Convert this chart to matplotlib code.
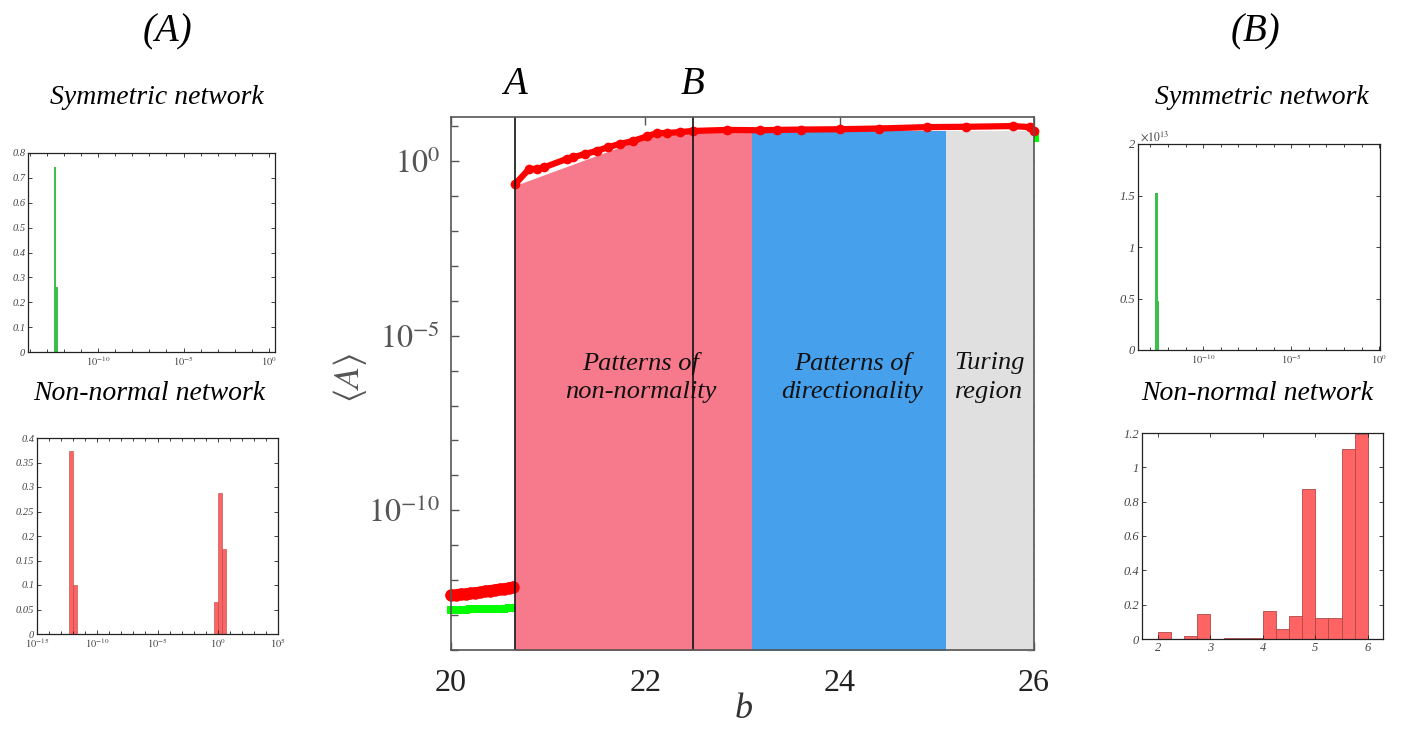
import matplotlib
matplotlib.use('Agg')
import matplotlib.pyplot as plt
from matplotlib.ticker import FixedLocator, NullFormatter
import numpy as np

plt.rcParams['font.family'] = ['Liberation Serif', 'DejaVu Serif']
plt.rcParams['mathtext.fontset'] = 'stix'

# ---------------- main panel data ----------------
red_b_low = [20.00, 20.05, 20.10, 20.15, 20.20, 20.25, 20.30, 20.35, 20.40, 20.45, 20.50, 20.55, 20.60, 20.64]
red_logA_low = [-12.43, -12.42, -12.40, -12.40, -12.38, -12.36, -12.35, -12.32, -12.30, -12.28, -12.26, -12.25, -12.22, -12.20]
green_b_low = [20.00, 20.05, 20.10, 20.15, 20.20, 20.25, 20.30, 20.35, 20.40, 20.45, 20.50, 20.55, 20.60, 20.65]
green_logA_low = [-12.86, -12.86, -12.85, -12.85, -12.84, -12.84, -12.83, -12.83, -12.83, -12.82, -12.82, -12.82, -12.81, -12.81]
red_b_high = [20.66, 20.80, 20.88, 20.96, 21.19, 21.26, 21.38, 21.50, 21.62, 21.74, 21.87, 22.02, 22.12, 22.22,
              22.36, 22.49, 22.84, 23.18, 23.35, 23.60, 24.00, 24.40, 24.90, 25.30, 25.78, 25.96, 26.00]
red_logA_high = [-0.66, -0.24, -0.22, -0.18, 0.06, 0.11, 0.20, 0.29, 0.40, 0.49, 0.57, 0.71, 0.80, 0.80,
                 0.83, 0.86, 0.89, 0.88, 0.89, 0.90, 0.91, 0.93, 0.97, 0.98, 1.00, 0.97, 0.86]
green_b_end = [26.0]
green_logA_end = [0.69]

b_A = 20.66
b_B = 22.49
pink_b = [20.66, 22.07, 22.50, 23.10]
pink_logtop = [-0.70, 0.74, 0.84, 0.86]
blue_b = [23.10, 25.09]
gray_b = [25.09, 26.00]
region_logtop = 0.86

x_ticks_main = [20, 22, 24, 26]
y_ticks_main = [1e-10, 1e-5, 1e0]
y_ticklabels_main = [r'$10^{-10}$', r'$10^{-5}$', r'$10^{0}$']

# ---------------- small histogram data ----------------
symA_logedges = [-12.56, -12.44, -12.32]
symA_heights = [0.745, 0.26]
nnA_logedges_1 = [-12.38, -12.01, -11.68]
nnA_heights_1 = [0.373, 0.10]
nnA_logedges_2 = [-0.29, 0.02, 0.35, 0.68]
nnA_heights_2 = [0.065, 0.287, 0.173]
symB_logedges = [-12.73, -12.58, -12.49]
symB_heights = [1.52e13, 0.48e13]
nnB_edges = [2.00, 2.25, 2.50, 2.75, 3.00, 3.25, 3.50, 3.75, 4.00, 4.25, 4.50, 4.75, 5.00, 5.25, 5.50, 5.75, 6.00]
nnB_heights = [0.040, 0.0, 0.019, 0.146, 0.0, 0.003, 0.006, 0.005, 0.165, 0.058, 0.136, 0.876, 0.122, 0.122, 1.105, 1.196]

PINK = '#f67a8b'
BLUE = '#47a0eb'
GRAY = '#e0e0e0'
HRED = '#ff6464'
HGREEN = '#3dbf4c'

W, H = 1402, 729
fig = plt.figure(figsize=(W / 100, H / 100), dpi=100)


def rect(l, t, r, b):
    return [l / W, 1 - b / H, (r - l) / W, (b - t) / H]


# ---------------- main axes ----------------
ax = fig.add_axes(rect(451, 117, 1034, 650))
ax.set_yscale('log')
ax.set_xlim(20, 26)
ax.set_ylim(1e-14, 10 ** 1.26)

ax.plot(green_b_low, 10 ** np.array(green_logA_low), 's', color='#00ff00', ms=6, mew=0,
        clip_on=False, zorder=1)
ax.plot(green_b_end, 10 ** np.array(green_logA_end), 's', color='#00ff00', ms=7, mew=0,
        clip_on=False, zorder=1)

ax.fill_between(pink_b, 10 ** np.array(pink_logtop), 1e-20, color=PINK, lw=0, zorder=2)
ax.fill_between(blue_b, 10 ** region_logtop, 1e-20, color=BLUE, lw=0, zorder=2)
ax.fill_between(gray_b, 10 ** region_logtop, 1e-20, color=GRAY, lw=0, zorder=2)

ax.plot(red_b_low, 10 ** np.array(red_logA_low), '-o', color='#ff0000', ms=9, mew=0, lw=8,
        solid_capstyle='round', clip_on=False, zorder=4)
ax.plot(red_b_high, 10 ** np.array(red_logA_high), '-o', color='#ff0000', ms=7, mew=0, lw=4.5,
        solid_capstyle='round', clip_on=False, zorder=4)

ax.axvline(b_A, color='#111111', lw=1.2, zorder=5)
ax.axvline(b_B, color='#111111', lw=1.2, zorder=5)

for s in ax.spines.values():
    s.set_color('#555555')
    s.set_linewidth(1.2)
    s.set_zorder(6)

ax.set_xticks(x_ticks_main)
ax.set_xticklabels([str(v) for v in x_ticks_main], fontsize=23, color='#222222')
ax.yaxis.set_major_locator(FixedLocator(y_ticks_main))
ax.set_yticklabels(y_ticklabels_main, fontsize=23, color='#555555')
ax.yaxis.set_minor_locator(FixedLocator([10.0 ** k for k in range(-14, 2)]))
ax.yaxis.set_minor_formatter(NullFormatter())
ax.tick_params(axis='both', which='both', direction='in', top=True, right=True,
               color='#555555', width=1.0)
ax.tick_params(axis='both', which='major', length=6)
ax.tick_params(axis='y', which='minor', length=5)
ax.tick_params(axis='x', pad=14)
ax.tick_params(axis='y', pad=8)

fig.text(744 / W, 1 - 710 / H, 'b', fontsize=26, style='italic', ha='center', va='center', color='#333333')
fig.text(350 / W, 1 - 378 / H, r'$\langle A\rangle$', fontsize=26, rotation=90, ha='center', va='center',
         color='#555555')

txt_kw = dict(fontsize=19, style='italic', ha='center', va='center', color='#111111', linespacing=1.4)
ax.text(21.95, 10 ** -6.2, 'Patterns of\nnon-normality', **txt_kw)
ax.text(24.13, 10 ** -6.2, 'Patterns of\ndirectionality', **txt_kw)
ax.text(25.54, 10 ** -6.2, 'Turing\nregion', **txt_kw)

fig.text(515 / W, 1 - 85 / H, 'A', fontsize=28, style='italic', ha='center', va='center')
fig.text(693 / W, 1 - 85 / H, 'B', fontsize=28, style='italic', ha='center', va='center')

fig.text(168 / W, 1 - 32 / H, '(A)', fontsize=28, style='italic', ha='center', va='center')
fig.text(1256 / W, 1 - 32 / H, '(B)', fontsize=28, style='italic', ha='center', va='center')
fig.text(157 / W, 1 - 97 / H, 'Symmetric network', fontsize=20, style='italic', ha='center', va='center')
fig.text(1262 / W, 1 - 97 / H, 'Symmetric network', fontsize=20, style='italic', ha='center', va='center')
fig.text(149 / W, 1 - 393 / H, 'Non-normal network', fontsize=20, style='italic', ha='center', va='center')
fig.text(1257 / W, 1 - 393 / H, 'Non-normal network', fontsize=20, style='italic', ha='center', va='center')


# ---------------- small panels ----------------
def style_small(a):
    for s in a.spines.values():
        s.set_color('#222222')
        s.set_linewidth(0.9)
    a.tick_params(axis='both', which='both', direction='in', top=True, right=True,
                  labelsize=7.5, labelcolor='#444444', color='#222222', width=0.6, pad=2)
    a.tick_params(which='major', length=3)
    a.tick_params(which='minor', length=2)
    for lab in a.get_xticklabels() + a.get_yticklabels():
        lab.set_style('italic')


def log_bars(a, logedges, heights, color, edge, lw):
    le = 10 ** np.array(logedges)
    a.bar(le[:-1], heights, width=le[1:] - le[:-1], align='edge', color=color, edgecolor=edge, lw=lw)


log_major_lbl = {-15: r'$\mathit{10^{-15}}$', -10: r'$\mathit{10^{-10}}$', -5: r'$\mathit{10^{-5}}$',
                 0: r'$\mathit{10^{0}}$', 5: r'$\mathit{10^{5}}$'}

# A symmetric
a1 = fig.add_axes(rect(28, 153, 275, 352))
a1.set_xscale('log')
log_bars(a1, symA_logedges, symA_heights, HGREEN, HGREEN, 0)
a1.set_xlim(10 ** -14.1, 10 ** 0.35)
a1.set_ylim(0, 0.8)
a1.xaxis.set_major_locator(FixedLocator([1e-10, 1e-5, 1e0]))
a1.set_xticklabels([log_major_lbl[-10], log_major_lbl[-5], log_major_lbl[0]])
a1.xaxis.set_minor_locator(FixedLocator([10.0 ** k for k in range(-14, 1)]))
a1.xaxis.set_minor_formatter(NullFormatter())
a1.set_yticks(np.arange(0, 0.81, 0.1))
a1.set_yticklabels(['0', '0.1', '0.2', '0.3', '0.4', '0.5', '0.6', '0.7', '0.8'])
style_small(a1)

# A non-normal
a2 = fig.add_axes(rect(37, 438, 278, 634))
a2.set_xscale('log')
log_bars(a2, nnA_logedges_1, nnA_heights_1, HRED, '#b04848', 0.4)
log_bars(a2, nnA_logedges_2, nnA_heights_2, HRED, '#b04848', 0.4)
a2.set_xlim(1e-15, 1e5)
a2.set_ylim(0, 0.4)
a2.xaxis.set_major_locator(FixedLocator([1e-15, 1e-10, 1e-5, 1e0, 1e5]))
a2.set_xticklabels([log_major_lbl[k] for k in (-15, -10, -5, 0, 5)])
a2.xaxis.set_minor_locator(FixedLocator([10.0 ** k for k in range(-15, 6)]))
a2.xaxis.set_minor_formatter(NullFormatter())
a2.set_yticks(np.arange(0, 0.401, 0.05))
a2.set_yticklabels(['0', '0.05', '0.1', '0.15', '0.2', '0.25', '0.3', '0.35', '0.4'])
style_small(a2)

# B symmetric
a3 = fig.add_axes(rect(1138, 144, 1380, 350))
a3.set_xscale('log')
log_bars(a3, symB_logedges, symB_heights, HGREEN, HGREEN, 0)
a3.set_xlim(10 ** -13.7, 10 ** 0.05)
a3.set_ylim(0, 2e13)
a3.xaxis.set_major_locator(FixedLocator([1e-10, 1e-5, 1e0]))
a3.set_xticklabels([log_major_lbl[-10], log_major_lbl[-5], log_major_lbl[0]])
a3.xaxis.set_minor_locator(FixedLocator([10.0 ** k for k in range(-13, 1)]))
a3.xaxis.set_minor_formatter(NullFormatter())
a3.set_yticks([0, 0.5e13, 1e13, 1.5e13, 2e13])
a3.set_yticklabels(['0', '0.5', '1', '1.5', '2'])
style_small(a3)
a3.tick_params(axis='y', labelsize=9)
a3.text(0.01, 1.0, r'$\times\mathit{10^{13}}$', transform=a3.transAxes, fontsize=8.5, color='#444444',
        ha='left', va='bottom')

# B non-normal
a4 = fig.add_axes(rect(1142, 433, 1383, 639))
e = np.array(nnB_edges)
a4.bar(e[:-1], nnB_heights, width=e[1:] - e[:-1], align='edge', color=HRED, edgecolor='#b04848', lw=0.6)
a4.set_xlim(1.695, 6.29)
a4.set_ylim(0, 1.2)
a4.set_xticks([2, 3, 4, 5, 6])
a4.set_xticklabels(['2', '3', '4', '5', '6'])
a4.set_yticks([0, 0.2, 0.4, 0.6, 0.8, 1.0, 1.2])
a4.set_yticklabels(['0', '0.2', '0.4', '0.6', '0.8', '1', '1.2'])
style_small(a4)
a4.tick_params(labelsize=9)

fig.savefig('out.png', dpi=100)
